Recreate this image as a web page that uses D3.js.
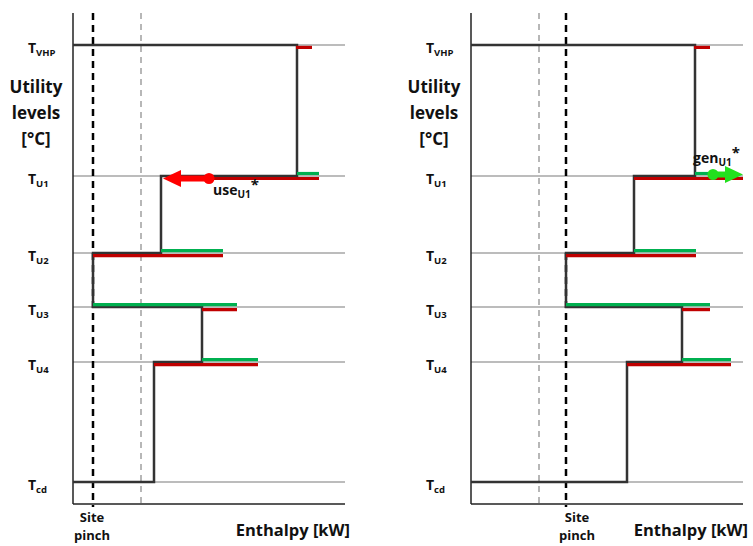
<!DOCTYPE html>
<html>
<head>
<meta charset="utf-8">
<script src="https://cdn.jsdelivr.net/npm/d3@7"></script>
<style>
  body { margin: 0; background: #fff; }
  text { font-family: "Open Sans", Lato, sans-serif; font-weight: 700; fill: #111; }
</style>
</head>
<body>
<svg id="chart" width="753" height="546"></svg>
<script>
// Utility levels (top to bottom) and their relative vertical position
const levels = ['VHP', 'U1', 'U2', 'U3', 'U4', 'cd'];
const levelPos = [93.5, 66.8, 51.1, 40.1, 28.9, 4.5];

// Left panel: verticals of the step curve between consecutive levels
const stepsA = [224, 88, 20, 129, 81];
const redA = [[223, 239], [136, 246], [20, 150], [129, 164], [81, 185], null];
const greenA = [null, [224, 246], [88, 150], [20, 164], [129, 185], null];

// Right panel
const stepsB = [224, 163, 95, 211, 156];
const redB = [[223, 239], [163, 272], [95, 225], [211, 239], [156, 260], null];
const greenB = [null, [224, 242], [163, 225], [95, 239], [211, 260], null];

const panels = [
  {
    axisX: 73, steps: stepsA, red: redA, green: greenA,
    pinch: 20, grayDash: 68, pinchLabel: 19,
    arrow: { level: 1, from: 136, to: 90, color: '#ff0000', dy: 2.5 },
    tag: { main: 'use', sub: 'U1', x: 140, y: 195 }
  },
  {
    axisX: 471, steps: stepsB, red: redB, green: greenB,
    pinch: 95, grayDash: 68, pinchLabel: 106,
    arrow: { level: 1, from: 242, to: 272, color: '#22e01e', dy: -1.5 },
    tag: { main: 'gen', sub: 'U1', x: 222, y: 163 }
  }
];

const svg = d3.select('#chart');
const y = d3.scaleLinear().domain([0, 100]).range([504, 13]);

panels.forEach((p) => {
  const x = d3.scaleLinear().domain([0, 272]).range([p.axisX, p.axisX + 272]);
  const g = svg.append('g');

  // gridlines at each level
  g.selectAll('.grid')
    .data(levelPos)
    .enter()
    .append('line')
    .attr('x1', x(0)).attr('x2', x(272))
    .attr('y1', (d) => y(d)).attr('y2', (d) => y(d))
    .attr('stroke', '#a6a6a6')
    .attr('stroke-width', 1.5);

  // dashed verticals
  g.append('line')
    .attr('x1', x(p.grayDash)).attr('x2', x(p.grayDash))
    .attr('y1', y(100)).attr('y2', y(0))
    .attr('stroke', '#b0b0b0')
    .attr('stroke-width', 1.8)
    .attr('stroke-dasharray', '6,5');

  g.append('line')
    .attr('x1', x(p.pinch)).attr('x2', x(p.pinch))
    .attr('y1', y(100)).attr('y2', y(0) + 3)
    .attr('stroke', '#000')
    .attr('stroke-width', 2.5)
    .attr('stroke-dasharray', '7,5');

  // axes
  g.append('line')
    .attr('x1', x(0)).attr('x2', x(0))
    .attr('y1', y(100)).attr('y2', y(0))
    .attr('stroke', '#222').attr('stroke-width', 1.5);
  g.append('line')
    .attr('x1', x(0)).attr('x2', x(272))
    .attr('y1', y(0)).attr('y2', y(0))
    .attr('stroke', '#222').attr('stroke-width', 1.5);

  // step curve
  const pts = [[0, levelPos[0]]];
  p.steps.forEach((s, i) => {
    pts.push([s, levelPos[i]]);
    pts.push([s, levelPos[i + 1]]);
  });
  pts.push([0, levelPos[levelPos.length - 1]]);
  g.append('path')
    .attr('d', d3.line().x((d) => x(d[0])).y((d) => y(d[1]))(pts))
    .attr('fill', 'none')
    .attr('stroke', '#333')
    .attr('stroke-width', 2.5);

  // red (below) and green (above) segments
  const segs = [];
  p.red.forEach((r, i) => { if (r) segs.push({ r, i, c: '#c00000', dy: 2.5 }); });
  p.green.forEach((r, i) => { if (r) segs.push({ r, i, c: '#00b050', dy: -2.5 }); });
  g.selectAll('.seg')
    .data(segs)
    .enter()
    .append('line')
    .attr('x1', (d) => x(d.r[0])).attr('x2', (d) => x(d.r[1]))
    .attr('y1', (d) => y(levelPos[d.i]) + d.dy)
    .attr('y2', (d) => y(levelPos[d.i]) + d.dy)
    .attr('stroke', (d) => d.c)
    .attr('stroke-width', 3.2);

  // arrow
  const a = p.arrow;
  const ay = y(levelPos[a.level]) + a.dy;
  const dir = Math.sign(a.to - a.from);
  const headLen = 18, headHalf = 8.5;
  const base = x(a.to) - dir * headLen;
  g.append('line')
    .attr('x1', x(a.from)).attr('x2', base)
    .attr('y1', ay).attr('y2', ay)
    .attr('stroke', a.color).attr('stroke-width', 6);
  g.append('path')
    .attr('d', `M${x(a.to)},${ay} L${base},${ay - headHalf} L${base},${ay + headHalf} Z`)
    .attr('fill', a.color);
  g.append('circle')
    .attr('cx', x(a.from)).attr('cy', ay).attr('r', 5.5)
    .attr('fill', a.color);

  const tag = g.append('text')
    .attr('x', x(p.tag.x)).attr('y', p.tag.y)
    .style('font-size', '14px');
  tag.append('tspan').text(p.tag.main);
  tag.append('tspan').attr('dy', 3).style('font-size', '10px').text(p.tag.sub);
  tag.append('tspan').attr('dy', -8).style('font-size', '15px').text('*');

  // level labels
  levels.forEach((lv, i) => {
    const t = g.append('text')
      .attr('x', x(0) - 45)
      .attr('y', y(levelPos[i]) + 8)
      .style('font-size', '14px');
    t.append('tspan').text('T');
    t.append('tspan').attr('dy', 3).style('font-size', '9.5px').text(lv);
  });

  // y title
  ['Utility', 'levels', '[°C]'].forEach((s, i) => {
    g.append('text')
      .attr('x', x(0) - 37)
      .attr('y', 93 + i * 26)
      .attr('text-anchor', 'middle')
      .style('font-size', '17px')
      .text(s);
  });

  // site pinch label
  ['Site', 'pinch'].forEach((s, i) => {
    g.append('text')
      .attr('x', x(p.pinchLabel))
      .attr('y', 522 + i * 18)
      .attr('text-anchor', 'middle')
      .style('font-size', '13px')
      .text(s);
  });

  g.append('text')
    .attr('x', x(277))
    .attr('y', 536)
    .attr('text-anchor', 'end')
    .style('font-size', '16.5px')
    .text('Enthalpy [kW]');
});
</script>
</body>
</html>
